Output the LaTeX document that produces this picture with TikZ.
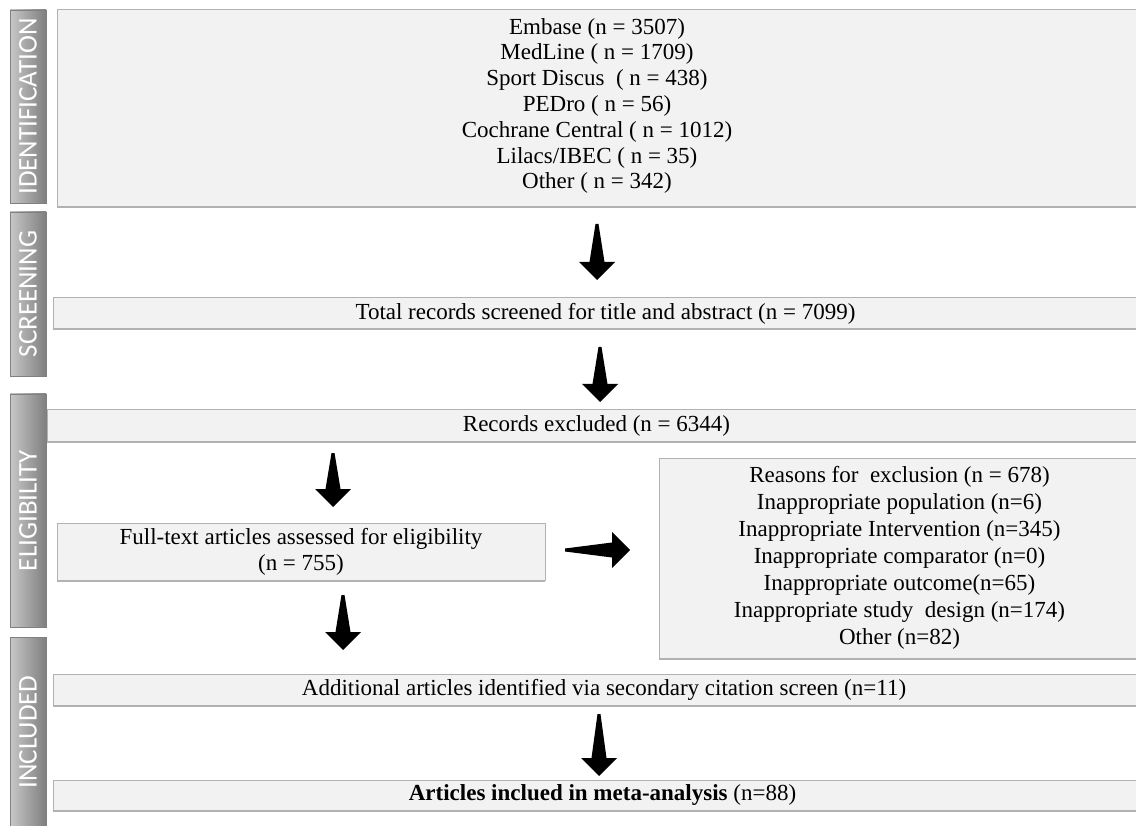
\documentclass[tikz,border=0pt]{standalone}
\usepackage{fontspec}
\setmainfont{Liberation Serif}
\newfontfamily\stagefont{Carlito}
\usetikzlibrary{calc,shadows}

\tikzset{
  stage/.style={draw=black!50, left color=black!22, right color=black!50,
    minimum width=36pt, inner sep=0pt, outer sep=0pt},
  stagelabel/.style={text=white, font=\stagefont\fontsize{27}{27}\selectfont, rotate=90},
  box/.style={draw=black!30, fill=black!5, line width=1pt, inner sep=0pt, outer sep=0pt,
    align=center, font=\fontsize{23}{25.8}\selectfont,
    drop shadow={shadow xshift=0pt, shadow yshift=-1.5pt, opacity=0.5, fill=black!60}},
}

\newcommand\bigarrow[2]{%
  \coordinate (hb) at ($(#2)!18pt!(#1)$);
  \fill ($(#1)!1.5pt!90:(#2)$) -- ($(hb)!7.5pt!90:(#2)$) -- ($(hb)!18pt!90:(#2)$) -- (#2)
    -- ($(hb)!18pt!-90:(#2)$) -- ($(hb)!7.5pt!-90:(#2)$) -- ($(#1)!1.5pt!-90:(#2)$) -- cycle;
}

\begin{document}
\begin{tikzpicture}[x=1pt, y=-1pt]
  \useasboundingbox (0,0) rectangle (1136,826);
  \clip (0,0) rectangle (1136,826);

  \node[stage, minimum height=193] (sident) at (28,106.5) {};
  \node[stagelabel] at (sident.center) {IDENTIFICATION};
  \node[stage, minimum height=164] (sscreen) at (28,294) {};
  \node[stagelabel] at (sscreen.center) {SCREENING};
  \node[stage, minimum height=233] (selig) at (28,510.5) {};
  \node[stagelabel] at (selig.center) {ELIGIBILITY};
  \node[stage, minimum height=190] (sincl) at (28,732) {};
  \node[stagelabel] at (sincl.center) {INCLUDED};

  \node[box, minimum width=1080, minimum height=197] (ident) at (597,108.5)
    {Embase (n = 3507)\\ MedLine ( n = 1709)\\ Sport Discus\ \ ( n = 438)\\ PEDro ( n = 56)\\
     Cochrane Central ( n = 1012)\\ Lilacs/IBEC ( n = 35)\\ Other ( n = 342)\\[-16pt]};
  \node[box, minimum width=1105, minimum height=31] (screen) at (605.5,313.5)
    {Total records screened for title and abstract (n = 7099)};
  \node[box, minimum width=1099, minimum height=31] (excl) at (596.5,425.5)
    {Records excluded (n = 6344)};
  \node[box, minimum width=488, minimum height=57] (fulltext) at (301,551.5)
    {Full-text articles assessed for eligibility\\ (n = 755)};
  \node[box, minimum width=481, minimum height=200, font=\fontsize{23}{27}\selectfont] (reasons) at (899.5,558)
    {Reasons for\ \ exclusion (n = 678)\\ Inappropriate population (n=6)\\
     Inappropriate Intervention (n=345)\\ Inappropriate comparator (n=0)\\
     Inappropriate outcome(n=65)\\ Inappropriate study\ \ design (n=174)\\ Other (n=82)};
  \node[box, minimum width=1102, minimum height=31] (additional) at (604,689.5)
    {Additional articles identified via secondary citation screen (n=11)};
  \node[box, minimum width=1099, minimum height=30] (included) at (602.5,795)
    {\textbf{Articles inclued in meta-analysis} (n=88)};

  \coordinate (a1s) at (597,224);  \coordinate (a1e) at (597,280);
  \coordinate (a2s) at (600,347);  \coordinate (a2e) at (600,402);
  \coordinate (a3s) at (333,453);  \coordinate (a3e) at (333,507);
  \coordinate (a4s) at (565,550);  \coordinate (a4e) at (630,550);
  \coordinate (a5s) at (343,595);  \coordinate (a5e) at (343,650);
  \coordinate (a6s) at (599,714);  \coordinate (a6e) at (599,776);

  \bigarrow{a1s}{a1e}
  \bigarrow{a2s}{a2e}
  \bigarrow{a3s}{a3e}
  \bigarrow{a4s}{a4e}
  \bigarrow{a5s}{a5e}
  \bigarrow{a6s}{a6e}
\end{tikzpicture}
\end{document}
